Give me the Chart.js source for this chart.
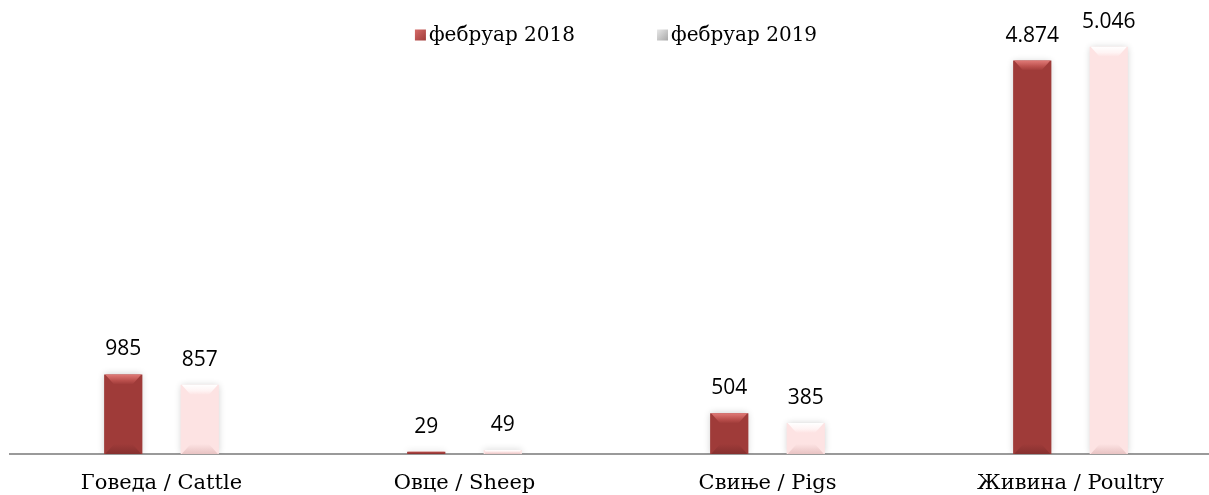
<!DOCTYPE html>
<html>
<head>
<meta charset="utf-8">
<script src="https://cdn.jsdelivr.net/npm/chart.js@4/dist/chart.umd.min.js"></script>
<style>
  html, body { margin: 0; padding: 0; background: #fff; overflow: hidden; }
  #wrap { width: 1209px; height: 495px; overflow: hidden; }
</style>
</head>
<body>
<div id="wrap"><canvas id="livestock" width="1232" height="495"></canvas></div>
<script>
// categories and series
const categories = ['Говеда / Cattle', 'Овце / Sheep', 'Свиње / Pigs', 'Живина / Poultry'];
const seriesNames = ['фебруар 2018', 'фебруар 2019'];
const values2018 = [985, 29, 504, 4874];
const values2019 = [857, 49, 385, 5046];

const fmt = (v) => v.toLocaleString('de-DE');

// per series colors: base, edge, top bevel, bottom bevel
const looks = [
    { base: '#9f3b39', edge: '#6e2625', top: '#e07a77', mid: '#bb504d', bottom: '#86302f', legend: '#9f3b39' },
    { base: '#fde3e3', edge: '#b9a2a2', top: '#ffffff', mid: '#fff4f4', bottom: '#e8c3c3', legend: '#a8a8a8' }
];

function barFill(idx) {
    return function (ctx) {
        const el = ctx.element;
        if (!el || el.width == null) return looks[idx].base;
        const c = ctx.chart.ctx;
        const l = el.x - el.width / 2, r = el.x + el.width / 2;
        const g = c.createLinearGradient(l, 0, r, 0);
        g.addColorStop(0, looks[idx].edge);
        g.addColorStop(0.12, looks[idx].base);
        g.addColorStop(0.85, looks[idx].base);
        g.addColorStop(1, looks[idx].edge);
        return g;
    };
}

// soft shadow + bevel on each bar
const bevelBars = {
    id: 'bevelBars',
    beforeDatasetsDraw(chart) {
        const c = chart.ctx;
        c.save();
        c.shadowColor = 'rgba(0,0,0,0.2)';
        c.shadowBlur = 7;
    },
    afterDatasetsDraw(chart) {
        const c = chart.ctx;
        c.restore();
        chart.data.datasets.forEach((ds, i) => {
            const look = looks[i];
            chart.getDatasetMeta(i).data.forEach((bar) => {
                const { x, y, base, width } = bar.getProps(['x', 'y', 'base', 'width'], true);
                const l = x - width / 2, r = x + width / 2;
                const h = base - y;
                const b = Math.min(10, h / 2);
                if (b < 1) return;
                c.save();
                let g = c.createLinearGradient(0, y, 0, y + b);
                g.addColorStop(0, look.top);
                g.addColorStop(0.6, look.mid);
                g.addColorStop(1, look.base);
                c.fillStyle = g;
                c.beginPath();
                c.moveTo(l + 1, y); c.lineTo(r - 1, y); c.lineTo(r - b, y + b); c.lineTo(l + b, y + b);
                c.closePath(); c.fill();
                g = c.createLinearGradient(0, base - b, 0, base);
                g.addColorStop(0, look.base);
                g.addColorStop(1, look.bottom);
                c.fillStyle = g;
                c.beginPath();
                c.moveTo(l + 1, base); c.lineTo(r - 1, base); c.lineTo(r - b, base - b); c.lineTo(l + b, base - b);
                c.closePath(); c.fill();
                c.restore();
            });
        });
    }
};

// value labels above the bars
const valueLabels = {
    id: 'valueLabels',
    afterDatasetsDraw(chart) {
        const c = chart.ctx;
        c.save();
        c.font = '21px "Open Sans"';
        c.fillStyle = '#000';
        c.textAlign = 'center';
        c.textBaseline = 'alphabetic';
        chart.data.datasets.forEach((ds, i) => {
            chart.getDatasetMeta(i).data.forEach((bar, j) => {
                c.fillText(fmt(ds.data[j]), bar.x, bar.y - 19);
            });
        });
        c.restore();
    }
};

// legend with small square markers, centred over the plot
const topLegend = {
    id: 'topLegend',
    afterDraw(chart) {
        const c = chart.ctx;
        const area = chart.chartArea;
        c.save();
        c.font = '20px "DejaVu Serif"';
        c.textBaseline = 'middle';
        c.textAlign = 'left';
        const box = 11, gap = 3, itemGap = 82;
        const widths = seriesNames.map((s) => box + gap + c.measureText(s).width);
        const total = widths.reduce((a, b) => a + b, 0) + itemGap * (widths.length - 1);
        let x = (area.left + area.right) / 2 - total / 2;
        const yc = 35;
        seriesNames.forEach((s, i) => {
            const g = c.createLinearGradient(x, yc - box / 2, x + box, yc + box / 2);
            g.addColorStop(0, i === 0 ? '#d66c69' : '#e8e8e8');
            g.addColorStop(1, looks[i].legend);
            c.fillStyle = g;
            c.fillRect(x, yc - box / 2, box, box);
            c.fillStyle = '#000';
            c.fillText(s, x + box + gap, yc + 1);
            x += widths[i] + itemGap;
        });
        c.restore();
    }
};

new Chart(document.getElementById('livestock'), {
    type: 'bar',
    data: {
        labels: categories,
        datasets: [
            { label: seriesNames[0], data: values2018, backgroundColor: barFill(0) },
            { label: seriesNames[1], data: values2019, backgroundColor: barFill(1) }
        ]
    },
    options: {
        responsive: false,
        animation: false,
        events: [],
        categoryPercentage: 0.505,
        barPercentage: 0.5,
        layout: { padding: { top: 10, left: 10, right: 10, bottom: 0 } },
        plugins: {
            legend: { display: false },
            tooltip: { enabled: false }
        },
        scales: {
            x: {
                grid: { display: false, drawTicks: false },
                border: { display: true, color: '#9a9a9a', width: 2 },
                ticks: {
                    color: '#000',
                    font: { family: '"DejaVu Serif"', size: 21 },
                    padding: 17
                },
                afterFit(axis) { axis.height = 41; }
            },
            y: {
                display: false,
                min: 0,
                max: 5500
            }
        }
    },
    plugins: [bevelBars, valueLabels, topLegend]
});
</script>
</body>
</html>
